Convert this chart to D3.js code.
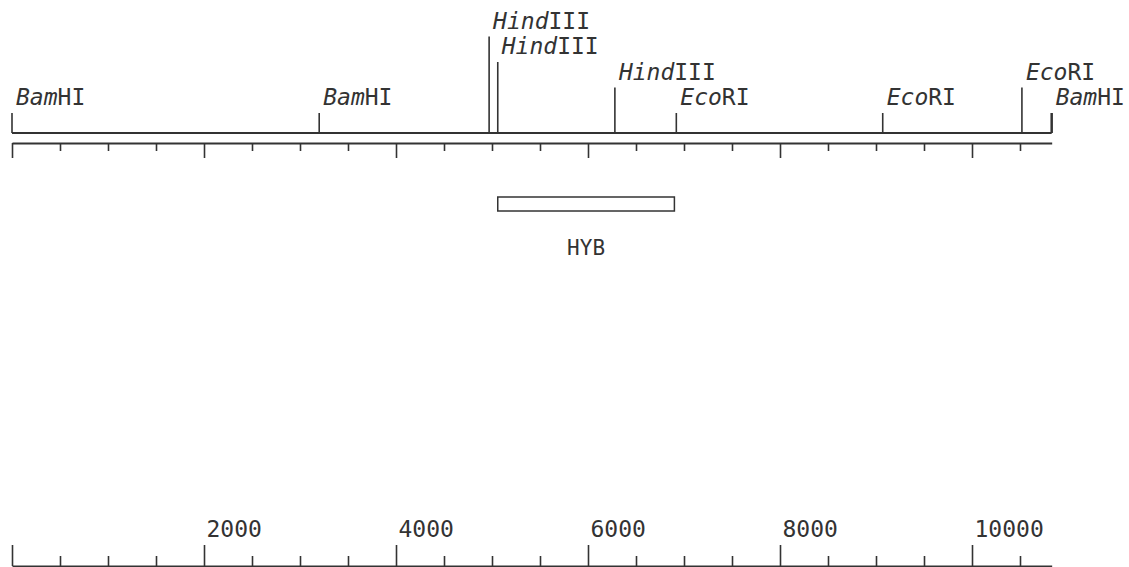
<!DOCTYPE html>
<html>
<head>
<meta charset="utf-8">
<script src="https://cdn.jsdelivr.net/npm/d3@7"></script>
<style>
	body { margin: 0; background: #fff; }
	svg { display: block; }
	text { font-family: "DejaVu Sans Mono", monospace; fill: #333; }
</style>
</head>
<body>
<svg id="chart"></svg>
<script>
// restriction sites along the map (bp)
var siteItalic = ['Bam', 'Bam', 'Hind', 'Hind', 'Hind', 'Eco', 'Eco', 'Eco', 'Bam'];
var siteRoman = ['HI', 'HI', 'III', 'III', 'III', 'RI', 'RI', 'RI', 'HI'];
var sitePositions = [0, 3200, 4970, 5060, 6280, 6920, 9070, 10520, 10830];
var siteRows = [0, 0, 3, 2, 1, 0, 0, 1, 0]; // label stacking level

// hybridisation probe
var probeLabel = 'HYB';
var probeStart = 5060;
var probeEnd = 6900;

// scale bar
var mapLength = 10830;
var tickStep = 500;
var labelStep = 2000;

var width = 1129;
var height = 567;

var svg = d3.select('#chart')
	.attr('width', width)
	.attr('height', height);

var x = d3.scaleLinear()
	.domain([0, mapLength])
	.range([12, 12 + mapLength * 0.096]);

var ink = '#333';
var tickValues = d3.range(0, mapLength + 1, tickStep);

//--- map line
var mapY = 133;
svg.append('line')
	.attr('x1', x(0))
	.attr('x2', x(mapLength))
	.attr('y1', mapY)
	.attr('y2', mapY)
	.attr('stroke', ink)
	.attr('stroke-width', 2);

var sites = svg.selectAll('g.site')
	.data(sitePositions)
	.enter()
	.append('g')
	.attr('class', 'site')
	.attr('transform', function(d) { return 'translate(' + x(d) + ',0)'; });

sites.append('line')
	.attr('y1', mapY)
	.attr('y2', function(d, i) { return 113 - siteRows[i] * 25.5; })
	.attr('stroke', ink)
	.attr('stroke-width', function(d, i) { return i == sitePositions.length - 1 ? 2.5 : 1.6; });

var labels = sites.append('text')
	.attr('x', 4)
	.attr('y', function(d, i) { return 105 - siteRows[i] * 25.5; })
	.style('font-size', '23px');
labels.append('tspan')
	.style('font-style', 'italic')
	.text(function(d, i) { return siteItalic[i]; });
labels.append('tspan')
	.text(function(d, i) { return siteRoman[i]; });

//--- ruler under the map
var ruler = d3.axisBottom(x)
	.tickValues(tickValues)
	.tickSize(8)
	.tickSizeOuter(0)
	.tickFormat('');

var rulerG = svg.append('g')
	.attr('transform', 'translate(0,143)')
	.call(ruler);
rulerG.select('.domain').attr('stroke', ink).attr('stroke-width', 2);
rulerG.selectAll('.tick line')
	.attr('stroke', ink)
	.attr('stroke-width', 1.6)
	.attr('y2', function(d) { return d % labelStep == 0 ? 15 : 8; });

//--- probe box
svg.append('rect')
	.attr('x', x(probeStart))
	.attr('y', 197)
	.attr('width', x(probeEnd) - x(probeStart))
	.attr('height', 14)
	.attr('fill', 'none')
	.attr('stroke', ink)
	.attr('stroke-width', 1.5);

svg.append('text')
	.attr('x', (x(probeStart) + x(probeEnd)) / 2)
	.attr('y', 255)
	.attr('text-anchor', 'middle')
	.style('font-size', '21px')
	.text(probeLabel);

//--- scale bar at the bottom
var scaleAxis = d3.axisTop(x)
	.tickValues(tickValues)
	.tickSize(10)
	.tickSizeOuter(0)
	.tickFormat(function(d) { return (d > 0 && d % labelStep == 0) ? d : ''; });

var scaleG = svg.append('g')
	.attr('transform', 'translate(0,566)')
	.call(scaleAxis);
scaleG.select('.domain').attr('stroke', ink).attr('stroke-width', 2);
scaleG.selectAll('.tick line')
	.attr('stroke', ink)
	.attr('stroke-width', 1.6)
	.attr('y2', function(d) { return d % labelStep == 0 ? -21 : -10; });
scaleG.selectAll('.tick text')
	.attr('text-anchor', 'start')
	.attr('x', 2)
	.attr('y', -29)
	.attr('dy', null)
	.attr('fill', ink)
	.style('font-family', '"DejaVu Sans Mono", monospace')
	.style('font-size', '23px');
</script>
</body>
</html>
